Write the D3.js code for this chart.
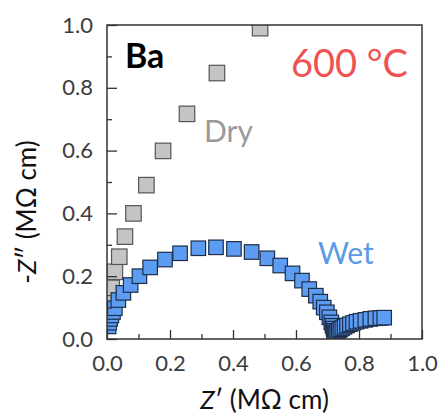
<!DOCTYPE html>
<html>
<head>
<meta charset="utf-8">
<script src="https://cdn.jsdelivr.net/npm/d3@7"></script>
<style>
  body { margin: 0; background: #fff; }
  text { font-family: Lato, "Open Sans", sans-serif; }
</style>
</head>
<body>
<svg id="nyquist"></svg>
<script>
// Dry series (grey squares), Z' and -Z'' in MOhm cm
const dryZr = [0.004, 0.006, 0.009, 0.015, 0.025, 0.039, 0.057, 0.084, 0.125, 0.178, 0.254, 0.349, 0.486];
const dryZi = [0.060, 0.090, 0.125, 0.163, 0.214, 0.262, 0.326, 0.400, 0.490, 0.599, 0.717, 0.847, 0.990];
// Wet series (blue squares)
const wetZr = [0.005, 0.007, 0.010, 0.014, 0.019, 0.025, 0.036, 0.052, 0.075, 0.103, 0.137, 0.184,
               0.232, 0.290, 0.346, 0.403, 0.459, 0.509, 0.550, 0.589, 0.619, 0.642, 0.663, 0.677,
               0.688, 0.698, 0.706, 0.712, 0.716, 0.719, 0.721, 0.722,
               0.724, 0.727, 0.731, 0.736, 0.741, 0.747, 0.754, 0.762, 0.771, 0.781, 0.792, 0.805,
               0.820, 0.836, 0.852, 0.868, 0.880];
const wetZi = [0.040, 0.052, 0.064, 0.075, 0.086, 0.098, 0.124, 0.147, 0.172, 0.200, 0.228, 0.253,
               0.273, 0.289, 0.292, 0.287, 0.277, 0.257, 0.234, 0.209, 0.186, 0.159, 0.138, 0.119,
               0.100, 0.085, 0.069, 0.053, 0.042, 0.033, 0.026, 0.020,
               0.016, 0.019, 0.023, 0.027, 0.031, 0.035, 0.039, 0.043, 0.047, 0.051, 0.055, 0.058,
               0.061, 0.064, 0.066, 0.067, 0.068];
const majorTicks = [0, 0.2, 0.4, 0.6, 0.8, 1.0];
const minorTicks = [0.1, 0.3, 0.5, 0.7, 0.9];

const width = 444, height = 418;
const pLeft = 107, pRight = 422, pTop = 25, pBottom = 339;

const svg = d3.select("#nyquist")
  .attr("width", width)
  .attr("height", height)
  .style("background", "#fff");

const x = d3.scaleLinear().domain([0, 1]).range([pLeft, pRight]);
const y = d3.scaleLinear().domain([0, 1]).range([pBottom, pTop]);

svg.append("clipPath").attr("id", "plotclip")
  .append("rect")
  .attr("x", pLeft).attr("y", pTop)
  .attr("width", pRight - pLeft).attr("height", pBottom - pTop);

// squares, dry first then wet on top
const plot = svg.append("g").attr("clip-path", "url(#plotclip)");

function squares(xs, ys, side, fill, stroke) {
  plot.append("g").selectAll("rect")
    .data(xs.map((v, i) => [v, ys[i]]))
    .enter().append("rect")
    .attr("x", d => x(d[0]) - side / 2)
    .attr("y", d => y(d[1]) - side / 2)
    .attr("width", side).attr("height", side)
    .attr("fill", fill)
    .attr("stroke", stroke)
    .attr("stroke-width", 1.2);
}
squares(dryZr, dryZi, 15.5, "#c4c4c4", "#555");
squares(wetZr, wetZi, 14.5, "#5c9df3", "#1e2d48");

// axes: ticks point inward
const fmt = d3.format(".1f");
function styleAxis(g) {
  g.select(".domain").remove();
  g.selectAll("line").attr("stroke", "#333").attr("stroke-width", 1.3);
  g.selectAll("text").attr("fill", "#3c3c3c").style("font-size", "22px");
}
svg.append("g").attr("transform", `translate(0,${pBottom})`)
  .call(d3.axisBottom(x).tickValues(majorTicks).tickSize(-9).tickPadding(16).tickFormat(fmt))
  .call(styleAxis);
svg.append("g").attr("transform", `translate(0,${pBottom})`)
  .call(d3.axisBottom(x).tickValues(minorTicks).tickSize(-5).tickFormat(""))
  .call(styleAxis);
svg.append("g").attr("transform", `translate(${pLeft},0)`)
  .call(d3.axisLeft(y).tickValues(majorTicks).tickSize(-10).tickPadding(14).tickFormat(fmt))
  .call(styleAxis);
svg.append("g").attr("transform", `translate(${pLeft},0)`)
  .call(d3.axisLeft(y).tickValues(minorTicks).tickSize(-5).tickFormat(""))
  .call(styleAxis);

// frame
svg.append("rect")
  .attr("x", pLeft).attr("y", pTop)
  .attr("width", pRight - pLeft).attr("height", pBottom - pTop)
  .attr("fill", "none").attr("stroke", "#333").attr("stroke-width", 1.5);

// axis titles
const xt = svg.append("text")
  .attr("x", (pLeft + pRight) / 2).attr("y", 409)
  .attr("text-anchor", "middle")
  .style("font-size", "26px").attr("fill", "#111");
xt.append("tspan").style("font-style", "italic").text("Z");
xt.append("tspan").text("\u2032 (M\u03A9 cm)");

const yt = svg.append("text")
  .attr("transform", "translate(36,212) rotate(-90)")
  .attr("text-anchor", "middle")
  .style("font-size", "26px").attr("fill", "#111");
yt.append("tspan").text("-");
yt.append("tspan").style("font-style", "italic").text("Z");
yt.append("tspan").text("\u2033 (M\u03A9 cm)");

// annotations
svg.append("text").attr("x", 125).attr("y", 68)
  .style("font-size", "34px").style("font-weight", "bold").attr("fill", "#000")
  .text("Ba");
svg.append("text").attr("x", 408).attr("y", 77).attr("text-anchor", "end")
  .style("font-size", "38px").attr("fill", "#f05252")
  .text("600 \u00B0C");
svg.append("text").attr("x", 204).attr("y", 142)
  .style("font-size", "30px").attr("fill", "#999")
  .text("Dry");
svg.append("text").attr("x", 318).attr("y", 264)
  .style("font-size", "30px").attr("fill", "#5a9ae6")
  .text("Wet");
</script>
</body>
</html>
